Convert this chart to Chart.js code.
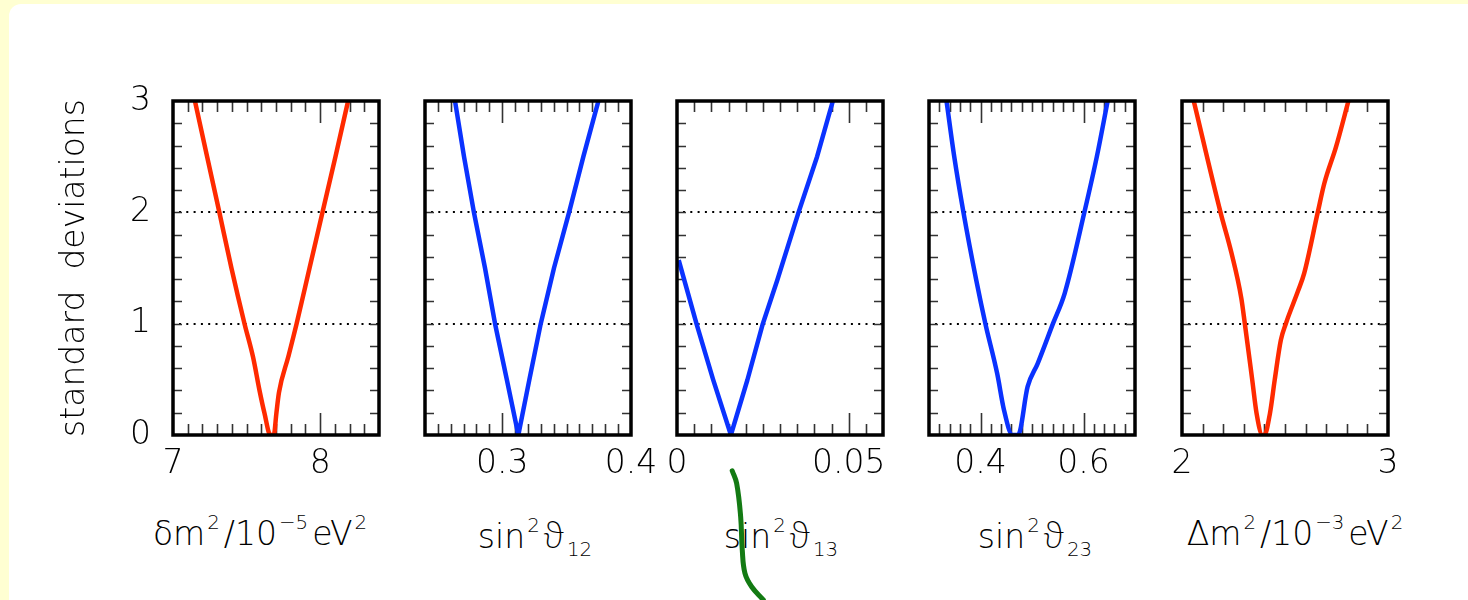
<!DOCTYPE html>
<html>
<head>
<meta charset="utf-8">
<script src="https://cdn.jsdelivr.net/npm/chart.js@4.4.1/dist/chart.umd.min.js"></script>
<style>
html, body { margin: 0; padding: 0; width: 1468px; height: 600px; overflow: hidden; background: #ffffd2; }
#sheet { position: absolute; left: 9px; top: 4px; width: 1480px; height: 620px; background: #fff; border-top-left-radius: 12px; }
.xt { position: absolute; top: 514px; width: 340px; text-align: center; white-space: nowrap;
      font: 200 33px 'DejaVu Sans', sans-serif; color: #000; line-height: 40px; }
.xt sup { font-size: 0.6em; vertical-align: 0.8em; line-height: 0; margin: 0 4px 0 2px; }
.xt sub { font-size: 0.6em; vertical-align: -0.4em; line-height: 0; margin-left: 3px; }
.xt .th { font-family: 'Noto Sans', 'Open Sans', 'DejaVu Sans', sans-serif; font-weight: 200; font-size: 1.08em; }
canvas { position: absolute; top: 0; }
</style>
</head>
<body>
<div id="sheet"></div>
<div class="xt" style="left:92px">δm<sup>2</sup>/10<sup>−5</sup>eV<sup>2</sup></div>
<div class="xt" style="left:365px">sin<sup>2</sup><span class="th">ϑ</span><sub>12</sub></div>
<div class="xt" style="left:611px">sin<sup>2</sup><span class="th">ϑ</span><sub>13</sub></div>
<div class="xt" style="left:865px">sin<sup>2</sup><span class="th">ϑ</span><sub>23</sub></div>
<div class="xt" style="left:1127px">Δm<sup>2</sup>/10<sup>−3</sup>eV<sup>2</sup></div>
<script>
// y axis: number of standard deviations
const sigmaTicks = [0, 1, 2, 3];
const sigmaLevels = [1, 2];

// δm² / 1e-5 eV²
const dm2X = [7.149, 7.232, 7.315, 7.397, 7.486, 7.544, 7.588, 7.621, 7.662, 7.685, 7.703, 7.72, 7.783, 7.84, 7.928, 8.016, 8.104, 8.19];
const dm2Y = [3, 2.5, 2, 1.5, 1, 0.7, 0.4, 0.2, 0, 0, 0.2, 0.38, 0.7, 1, 1.5, 2, 2.5, 3];
const dm2Ticks = [7, 8];

// sin² θ12
const s12X = [0.2633, 0.2703, 0.278, 0.2866, 0.2944, 0.3035, 0.3125, 0.3211, 0.3299, 0.3402, 0.3519, 0.363, 0.3747];
const s12Y = [3, 2.5, 2, 1.5, 1, 0.5, 0, 0.5, 1, 1.5, 2, 2.5, 3];
const s12Ticks = [0.3, 0.4];

// sin² θ13
const s13X = [0.0005, 0.00567, 0.0105, 0.0157, 0.0205, 0.025, 0.0292, 0.0354, 0.0408, 0.0454];
const s13Y = [1.57, 1, 0.5, 0, 0.494, 1, 1.39, 2, 2.5, 3];
const s13Ticks = [0, 0.05];

// sin² θ23
const s23X = [0.334, 0.349, 0.3669, 0.3918, 0.4095, 0.4325, 0.4456, 0.462, 0.473, 0.4915, 0.5112, 0.5407, 0.5635, 0.6017, 0.6259, 0.6469];
const s23Y = [3, 2.5, 2, 1.39, 1, 0.55, 0.225, 0, 0, 0.434, 0.644, 1, 1.273, 2, 2.5, 3];
const s23Ticks = [0.4, 0.6];

// Δm² / 1e-3 eV²
const bigX = [2.057, 2.187, 2.2405, 2.288, 2.305, 2.341, 2.362, 2.39, 2.40, 2.427, 2.45, 2.48, 2.504, 2.564, 2.593, 2.659, 2.691, 2.748, 2.808];
const bigY = [3, 2, 1.632, 1.228, 1, 0.494, 0.195, 0, 0, 0.195, 0.494, 0.854, 1, 1.297, 1.452, 2, 2.261, 2.59, 3];
const bigTicks = [2, 3];

// hand-drawn green mark, in the sin² θ13 panel's units
const markX = [0.01608, 0.01737, 0.01854, 0.01901, 0.0198, 0.02175, 0.02515];
const markY = [-0.321, -0.434, -0.734, -1.033, -1.243, -1.363, -1.482];

const RED = "#ff2a00", BLUE = "#0a32ff", GREEN = "#137a13";
const FONT = "'DejaVu Sans', sans-serif";

const panels = [
  { xs: dm2X, ys: dm2Y, ticks: dm2Ticks, min: 7,    max: 8.4,  step: 0.1,   color: RED,  left: 173,  smooth: true },
  { xs: s12X, ys: s12Y, ticks: s12Ticks, min: 0.24, max: 0.4,  step: 0.01,  color: BLUE, left: 425,  smooth: false },
  { xs: s13X, ys: s13Y, ticks: s13Ticks, min: 0,    max: 0.06, step: 0.005, color: BLUE, left: 677,  smooth: false },
  { xs: s23X, ys: s23Y, ticks: s23Ticks, min: 0.3,  max: 0.7,  step: 0.02,  color: BLUE, left: 929,  smooth: true },
  { xs: bigX, ys: bigY, ticks: bigTicks, min: 2,    max: 3,    step: 0.1,   color: RED,  left: 1182, smooth: true }
];
const W = 206, PAD = 60, TOP = 101, BOTTOM = 435;

const pts = (xs, ys) => xs.map((x, i) => ({ x, y: ys[i] }));

// frame, inner tick marks and dotted sigma levels
const framePlugin = {
  id: "frame",
  beforeDatasetsDraw(chart, args, o) {
    const { ctx, chartArea: a, scales: { x, y } } = chart;
    ctx.save();
    ctx.strokeStyle = "#000"; ctx.lineWidth = 2; ctx.setLineDash([2, 5.3]);
    sigmaLevels.forEach(v => {
      const py = Math.round(y.getPixelForValue(v));
      ctx.beginPath(); ctx.moveTo(a.left + 6, py); ctx.lineTo(a.right, py); ctx.stroke();
    });
    ctx.setLineDash([]);
    ctx.strokeStyle = "#333"; ctx.lineWidth = 1.6;
    for (let i = 1; i < 15; i++) {
      const py = Math.round(y.getPixelForValue(i * 0.2)) + 0.5;
      ctx.beginPath();
      ctx.moveTo(a.left, py); ctx.lineTo(a.left + 9, py);
      ctx.moveTo(a.right - 9, py); ctx.lineTo(a.right, py);
      ctx.stroke();
    }
    const n = Math.round((o.max - o.min) / o.step);
    for (let i = 1; i < n; i++) {
      const v = o.min + i * o.step;
      const major = o.ticks.some(t => Math.abs(t - v) < o.step / 10);
      const len = major ? 22 : 11;
      const px = Math.round(x.getPixelForValue(v)) + 0.5;
      ctx.beginPath();
      ctx.moveTo(px, a.top); ctx.lineTo(px, a.top + len);
      ctx.moveTo(px, a.bottom); ctx.lineTo(px, a.bottom - len);
      ctx.stroke();
    }
    ctx.restore();
  },
  afterDatasetsDraw(chart) {
    const { ctx, chartArea: a } = chart;
    ctx.save();
    ctx.strokeStyle = "#000"; ctx.lineWidth = 3.5;
    ctx.strokeRect(a.left, a.top, a.right - a.left, a.bottom - a.top);
    ctx.restore();
  }
};

panels.forEach((p, i) => {
  const first = i === 0;
  const cv = document.createElement("canvas");
  const cl = first ? 0 : p.left - PAD;
  const cw = first ? p.left + W + PAD : W + 2 * PAD;
  cv.width = cw; cv.height = 600;
  cv.style.left = cl + "px";
  document.body.appendChild(cv);

  const line = { data: pts(p.xs, p.ys), borderColor: p.color, borderWidth: 4.5, pointRadius: 0, fill: false,
                 borderJoinStyle: "round" };
  if (p.smooth) line.cubicInterpolationMode = "monotone"; else line.tension = 0;
  const datasets = [line];
  if (i === 2) {
    datasets.push({ data: pts(markX, markY), borderColor: GREEN, borderWidth: 5, pointRadius: 0, tension: 0.4,
                    fill: false, clip: false, borderCapStyle: "round" });
  }

  new Chart(cv, {
    type: "line",
    data: { datasets },
    plugins: [framePlugin],
    options: {
      responsive: false, animation: false, devicePixelRatio: 1,
      layout: { padding: { left: first ? 0 : PAD, right: PAD, top: TOP, bottom: 0 } },
      plugins: { legend: { display: false }, tooltip: { enabled: false }, frame: p },
      scales: {
        x: {
          type: "linear", min: p.min, max: p.max,
          grid: { display: false, drawTicks: false }, border: { display: false },
          afterBuildTicks: s => { s.ticks = p.ticks.map(v => ({ value: v })); },
          afterFit: s => { s.height = 600 - BOTTOM; s.paddingLeft = 0; s.paddingRight = 0; },
          ticks: { autoSkip: false, maxRotation: 0, padding: 10, color: "#000",
                   font: { family: FONT, size: 33, weight: 200 }, callback: v => String(v) }
        },
        y: {
          type: "linear", min: 0, max: 3, display: first,
          grid: { display: false, drawTicks: false }, border: { display: false },
          afterBuildTicks: s => { s.ticks = sigmaTicks.map(v => ({ value: v })); },
          afterFit: s => { s.width = first ? p.left : 0; s.paddingTop = 0; s.paddingBottom = 0; },
          ticks: { padding: 22, color: "#000", font: { family: FONT, size: 33, weight: 200 } },
          title: { display: true, text: "standard  deviations", color: "#000", padding: { top: 56 },
                   font: { family: FONT, size: 33, weight: 200 } }
        }
      }
    }
  });
});
</script>
</body>
</html>
